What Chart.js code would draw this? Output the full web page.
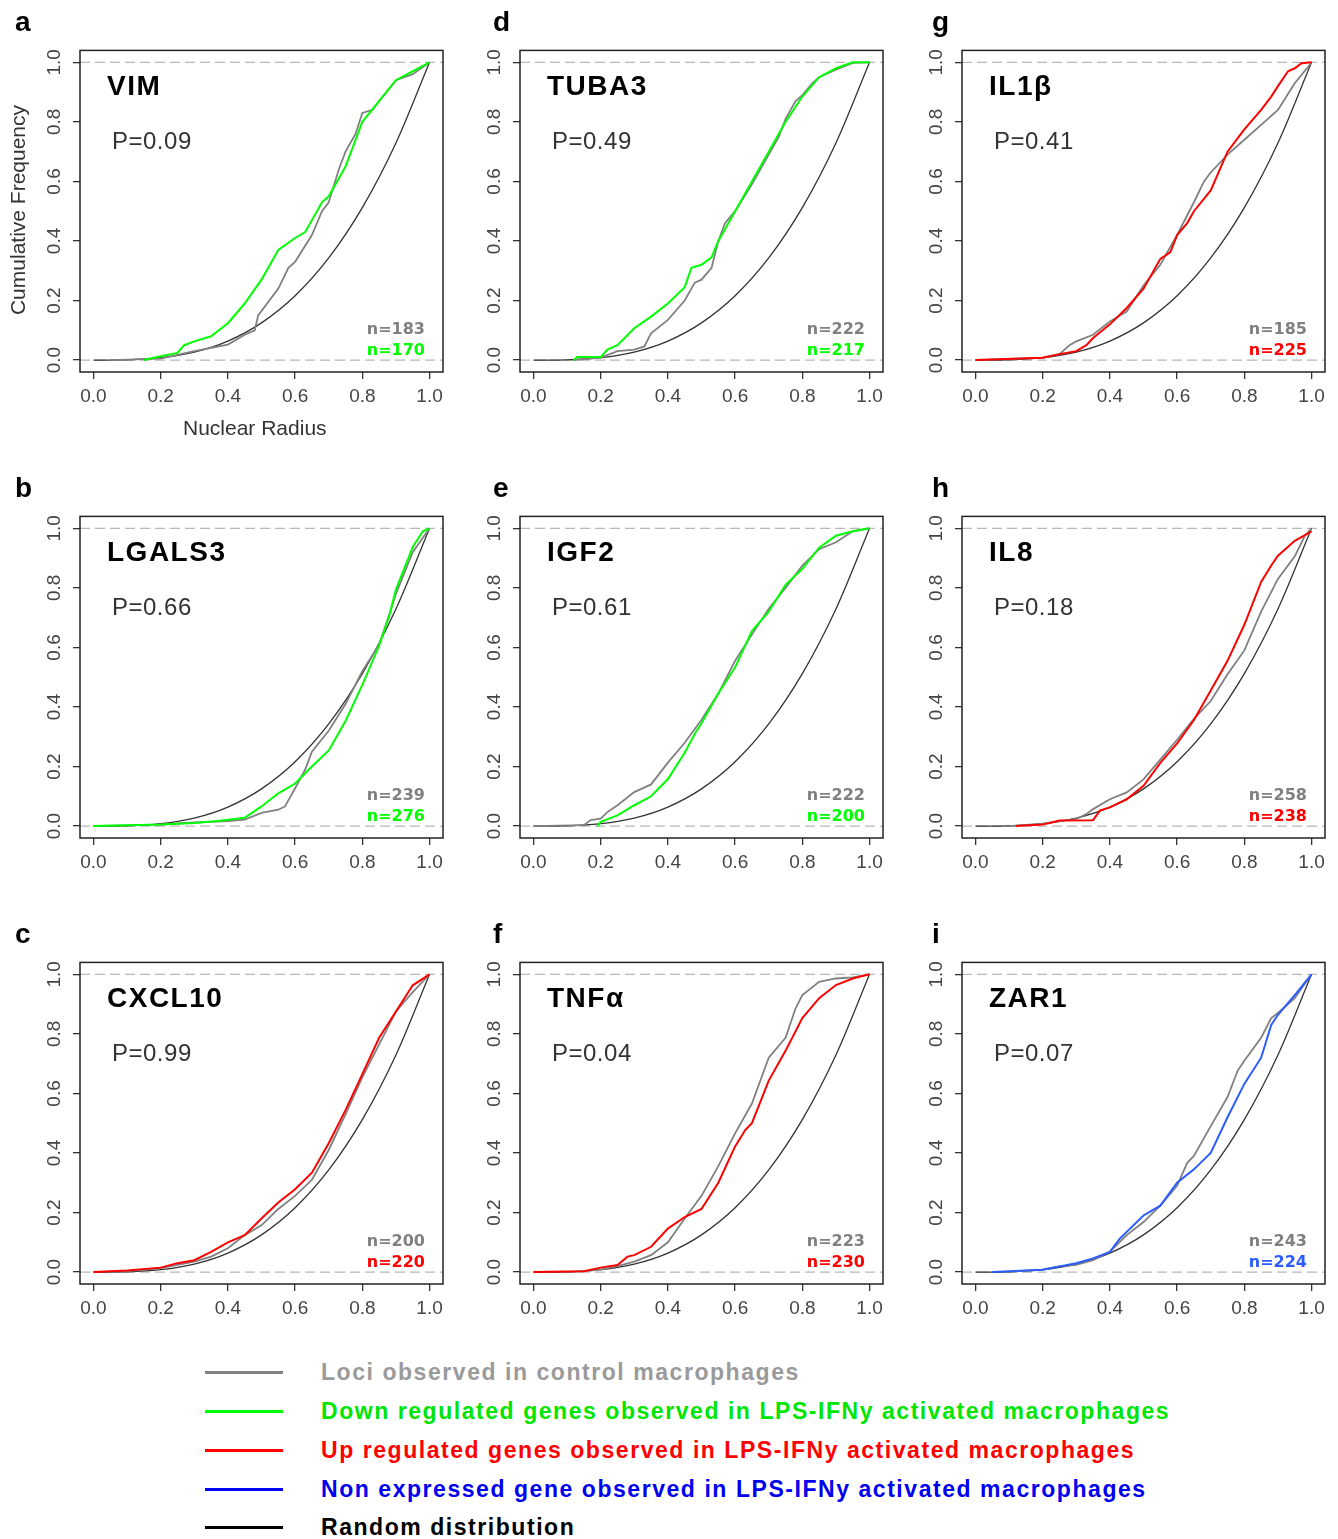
<!DOCTYPE html>
<html>
<head>
<meta charset="utf-8">
<script src="https://cdn.jsdelivr.net/npm/chart.js@4.4.1/dist/chart.umd.min.js"></script>
<style>
  body { margin: 0; background: #fff; width: 1338px; height: 1539px; position: relative; overflow: hidden;
         font-family: 'Liberation Sans', Arial, sans-serif; }
  canvas.panel { position: absolute; }
  .letter { position: absolute; font: bold 28px 'Liberation Sans', Arial, sans-serif; line-height: 28px; color: #000; }
  .axtitle { position: absolute; font: 21px 'Liberation Sans', Arial, sans-serif; color: #333; white-space: nowrap; }
  .leg-line { position: absolute; left: 205px; width: 78px; height: 3px; }
  .leg-text { position: absolute; left: 321px; font: bold 23px 'Liberation Sans', Arial, sans-serif;
              letter-spacing: 1.55px; line-height: 28px; white-space: nowrap; }
</style>
</head>
<body>
<script>
// Tick values shared by every panel
const xTicks = [0, 0.2, 0.4, 0.6, 0.8, 1.0];
const yTicks = [0, 0.2, 0.4, 0.6, 0.8, 1.0];

// Random distribution (black curve)
const randomX = [0, 0.1, 0.2, 0.3, 0.4, 0.5, 0.6, 0.7, 0.8, 0.9, 1.0];
const randomY = [0, 0.001, 0.008, 0.027, 0.064, 0.125, 0.216, 0.343, 0.512, 0.729, 1.0];

// Cumulative frequency curves, [nuclear radius, frequency]
const vimControl = [[0.05,0],[0.2,0.005],[0.3,0.03],[0.4,0.052],[0.45,0.085],[0.48,0.1],[0.49,0.15],[0.55,0.24],[0.58,0.31],[0.6,0.33],[0.65,0.42],[0.68,0.5],[0.7,0.53],[0.73,0.64],[0.75,0.7],[0.78,0.76],[0.8,0.83],[0.83,0.84],[0.85,0.87],[0.9,0.94],[0.95,0.96],[1,1]];
const vimTreated = [[0.15,0],[0.2,0.013],[0.25,0.024],[0.27,0.05],[0.3,0.063],[0.35,0.08],[0.4,0.124],[0.45,0.19],[0.5,0.27],[0.55,0.37],[0.6,0.41],[0.63,0.43],[0.65,0.47],[0.68,0.53],[0.7,0.55],[0.75,0.65],[0.8,0.8],[0.85,0.87],[0.9,0.94],[0.95,0.97],[1,1]];

const tuba3Control = [[0.12,0],[0.2,0.008],[0.25,0.03],[0.3,0.035],[0.33,0.046],[0.35,0.09],[0.4,0.135],[0.45,0.2],[0.48,0.26],[0.5,0.27],[0.53,0.31],[0.55,0.4],[0.57,0.46],[0.6,0.5],[0.65,0.59],[0.7,0.69],[0.73,0.75],[0.75,0.81],[0.78,0.87],[0.8,0.89],[0.83,0.93],[0.85,0.95],[0.9,0.975],[0.95,0.998],[1,1]];
const tuba3Treated = [[0.12,0],[0.13,0.01],[0.2,0.01],[0.22,0.035],[0.25,0.05],[0.3,0.107],[0.35,0.146],[0.4,0.19],[0.45,0.245],[0.47,0.31],[0.5,0.32],[0.53,0.345],[0.55,0.4],[0.6,0.5],[0.65,0.6],[0.7,0.7],[0.75,0.8],[0.8,0.885],[0.85,0.95],[0.9,0.98],[0.95,1],[1,1]];

const il1bControl = [[0,0],[0.2,0.008],[0.25,0.02],[0.28,0.05],[0.3,0.063],[0.35,0.085],[0.4,0.13],[0.45,0.163],[0.5,0.25],[0.55,0.32],[0.6,0.42],[0.65,0.53],[0.68,0.6],[0.7,0.63],[0.75,0.69],[0.8,0.74],[0.85,0.79],[0.9,0.84],[0.95,0.93],[0.99,0.985],[1,1]];
const il1bTreated = [[0,0],[0.2,0.008],[0.25,0.02],[0.3,0.03],[0.33,0.05],[0.35,0.074],[0.4,0.12],[0.45,0.175],[0.5,0.24],[0.55,0.34],[0.58,0.363],[0.6,0.42],[0.63,0.46],[0.65,0.5],[0.7,0.57],[0.75,0.7],[0.8,0.775],[0.85,0.84],[0.88,0.885],[0.9,0.92],[0.93,0.97],[0.95,0.98],[0.97,0.997],[1,1]];

const lgals3Control = [[0,0],[0.2,0.005],[0.3,0.012],[0.4,0.017],[0.45,0.022],[0.5,0.044],[0.55,0.055],[0.57,0.066],[0.6,0.127],[0.63,0.19],[0.65,0.25],[0.7,0.32],[0.75,0.41],[0.8,0.52],[0.85,0.61],[0.88,0.71],[0.9,0.78],[0.95,0.92],[1,1]];
const lgals3Treated = [[0,0],[0.2,0.005],[0.3,0.01],[0.37,0.017],[0.45,0.028],[0.5,0.066],[0.55,0.11],[0.6,0.143],[0.65,0.2],[0.7,0.254],[0.75,0.353],[0.8,0.474],[0.85,0.606],[0.88,0.706],[0.9,0.794],[0.95,0.937],[0.98,0.99],[1,1]];

const igf2Control = [[0,0],[0.15,0.003],[0.17,0.02],[0.2,0.025],[0.22,0.047],[0.25,0.07],[0.3,0.114],[0.35,0.14],[0.4,0.213],[0.45,0.28],[0.5,0.357],[0.55,0.445],[0.6,0.555],[0.65,0.643],[0.7,0.73],[0.75,0.8],[0.8,0.875],[0.85,0.93],[0.9,0.953],[0.95,0.99],[1,1]];
const igf2Treated = [[0.19,0],[0.2,0.014],[0.25,0.036],[0.3,0.07],[0.35,0.1],[0.4,0.158],[0.45,0.246],[0.48,0.31],[0.5,0.345],[0.55,0.445],[0.6,0.533],[0.65,0.655],[0.7,0.72],[0.75,0.81],[0.8,0.864],[0.85,0.935],[0.9,0.975],[0.95,0.99],[1,1]];

const il8Control = [[0.1,0],[0.2,0.008],[0.3,0.024],[0.33,0.04],[0.35,0.057],[0.4,0.09],[0.45,0.113],[0.5,0.157],[0.55,0.223],[0.6,0.29],[0.65,0.36],[0.7,0.42],[0.75,0.51],[0.8,0.59],[0.85,0.72],[0.9,0.83],[0.95,0.906],[0.98,0.975],[1,1]];
const il8Treated = [[0.12,0],[0.2,0.005],[0.25,0.019],[0.35,0.02],[0.37,0.052],[0.4,0.063],[0.45,0.09],[0.5,0.135],[0.55,0.212],[0.6,0.278],[0.65,0.356],[0.7,0.455],[0.75,0.555],[0.8,0.676],[0.85,0.82],[0.88,0.875],[0.9,0.908],[0.95,0.958],[1,0.99]];

const cxcl10Control = [[0.05,0],[0.1,0.003],[0.2,0.013],[0.25,0.024],[0.3,0.035],[0.35,0.052],[0.4,0.08],[0.45,0.124],[0.5,0.157],[0.55,0.212],[0.6,0.256],[0.65,0.31],[0.7,0.41],[0.75,0.53],[0.8,0.654],[0.85,0.765],[0.9,0.875],[0.95,0.94],[1,1]];
const cxcl10Treated = [[0,0],[0.05,0.003],[0.1,0.005],[0.2,0.015],[0.25,0.03],[0.3,0.04],[0.35,0.068],[0.4,0.1],[0.45,0.124],[0.5,0.18],[0.55,0.234],[0.6,0.278],[0.65,0.334],[0.7,0.433],[0.75,0.544],[0.8,0.665],[0.85,0.787],[0.9,0.875],[0.95,0.963],[1,1]];

const tnfControl = [[0.1,0],[0.15,0.003],[0.2,0.008],[0.25,0.02],[0.3,0.035],[0.35,0.057],[0.4,0.1],[0.45,0.18],[0.5,0.256],[0.55,0.356],[0.6,0.466],[0.65,0.566],[0.7,0.72],[0.75,0.787],[0.78,0.886],[0.8,0.93],[0.85,0.975],[0.9,0.986],[0.95,0.99],[1,1]];
const tnfTreated = [[0,0],[0.15,0.003],[0.2,0.015],[0.25,0.024],[0.28,0.052],[0.3,0.057],[0.35,0.085],[0.4,0.146],[0.45,0.185],[0.5,0.212],[0.55,0.3],[0.6,0.422],[0.63,0.477],[0.65,0.5],[0.7,0.643],[0.75,0.743],[0.8,0.853],[0.85,0.92],[0.9,0.964],[0.95,0.986],[1,1]];

const zar1Control = [[0.08,0],[0.2,0.008],[0.25,0.019],[0.3,0.024],[0.35,0.04],[0.4,0.068],[0.45,0.124],[0.5,0.168],[0.55,0.223],[0.6,0.29],[0.63,0.367],[0.65,0.39],[0.7,0.49],[0.75,0.588],[0.78,0.676],[0.8,0.71],[0.85,0.787],[0.88,0.853],[0.9,0.87],[0.95,0.92],[1,1]];
const zar1Treated = [[0.05,0],[0.2,0.008],[0.25,0.019],[0.3,0.03],[0.35,0.046],[0.4,0.068],[0.43,0.113],[0.45,0.135],[0.5,0.19],[0.55,0.223],[0.6,0.3],[0.65,0.345],[0.7,0.4],[0.75,0.52],[0.8,0.632],[0.85,0.72],[0.88,0.83],[0.9,0.864],[0.95,0.93],[1,1]];

// Panel labels
const panelLetters = ['a', 'd', 'g', 'b', 'e', 'h', 'c', 'f', 'i'];
const geneNames = ['VIM', 'TUBA3', 'IL1β', 'LGALS3', 'IGF2', 'IL8', 'CXCL10', 'TNFα', 'ZAR1'];
const pValues = ['P=0.09', 'P=0.49', 'P=0.41', 'P=0.66', 'P=0.61', 'P=0.18', 'P=0.99', 'P=0.04', 'P=0.07'];
const nControl = ['n=183', 'n=222', 'n=185', 'n=239', 'n=222', 'n=258', 'n=200', 'n=223', 'n=243'];
const nTreated = ['n=170', 'n=217', 'n=225', 'n=276', 'n=200', 'n=238', 'n=220', 'n=230', 'n=224'];

const GREY = '#808080', GREEN = '#00ff00', RED = '#ff0000', BLUE = '#2b5cff', BLACK = '#333333';
const controlSeries = [vimControl, tuba3Control, il1bControl, lgals3Control, igf2Control, il8Control, cxcl10Control, tnfControl, zar1Control];
const treatedSeries = [vimTreated, tuba3Treated, il1bTreated, lgals3Treated, igf2Treated, il8Treated, cxcl10Treated, tnfTreated, zar1Treated];
const treatedColors = [GREEN, GREEN, RED, GREEN, GREEN, RED, RED, RED, BLUE];

// Layout of the 3x3 grid (plot box corners)
const colLeft = [80, 520, 962];
const rowTop = [46, 512, 958];
const letterX = [15, 493, 932];
const BOX_W = 363, BOX_H = 326;
const PAD_L = 80, PAD_T = 12, PAD_R = 8, PAD_B = 52;
const FONT = "'Liberation Sans', Arial, sans-serif";

const toPoints = arr => arr.map(([x, y]) => ({ x, y }));

// Draws the box and the in-plot annotations
const panelTextPlugin = {
    id: 'panelText',
    afterDraw(chart, args, opts) {
        const { ctx, chartArea: a } = chart;
        ctx.save();
        ctx.strokeStyle = '#222';
        ctx.lineWidth = 1.5;
        ctx.strokeRect(a.left, a.top, a.right - a.left, a.bottom - a.top);

        ctx.textBaseline = 'middle';
        ctx.fillStyle = '#000';
        ctx.font = 'bold 28px ' + FONT;
        ctx.letterSpacing = '1.5px';
        ctx.textAlign = 'left';
        ctx.fillText(opts.gene, a.left + 27, a.top + 37);

        ctx.fillStyle = '#333';
        ctx.font = '24px ' + FONT;
        ctx.letterSpacing = '0.5px';
        ctx.fillText(opts.p, a.left + 32, a.top + 92);

        ctx.textAlign = 'right';
        ctx.letterSpacing = '0px';
        ctx.font = "bold 16px 'DejaVu Sans', sans-serif";
        ctx.fillStyle = GREY;
        ctx.fillText(opts.nCtrl, a.right - 18, a.bottom - 42);
        ctx.fillStyle = opts.color;
        ctx.fillText(opts.nTreat, a.right - 18, a.bottom - 21);
        ctx.restore();
    }
};

function buildPanel(i) {
    const col = i % 3, row = Math.floor(i / 3);
    const canvas = document.createElement('canvas');
    canvas.className = 'panel';
    canvas.width = PAD_L + BOX_W + PAD_R;
    canvas.height = PAD_T + BOX_H + PAD_B;
    canvas.style.left = (colLeft[col] - PAD_L) + 'px';
    canvas.style.top = (rowTop[row] - PAD_T) + 'px';
    document.body.appendChild(canvas);

    const letter = document.createElement('div');
    letter.className = 'letter';
    letter.textContent = panelLetters[i];
    letter.style.left = letterX[col] + 'px';
    letter.style.top = (rowTop[row] - 38) + 'px';
    document.body.appendChild(letter);

    const tickFont = { family: FONT, size: 19 };
    new Chart(canvas, {
        type: 'line',
        data: {
            datasets: [
                { data: toPoints(treatedSeries[i]), borderColor: treatedColors[i], borderWidth: 2 },
                { data: toPoints(controlSeries[i]), borderColor: GREY, borderWidth: 1.8 },
                { data: randomX.map((x, k) => ({ x, y: randomY[k] })), borderColor: BLACK, borderWidth: 1.3,
                  cubicInterpolationMode: 'monotone' },
                { data: [{ x: -0.04, y: 1 }, { x: 1.04, y: 1 }], borderColor: '#b8b8b8', borderWidth: 1.3, borderDash: [10, 5] },
                { data: [{ x: -0.04, y: 0 }, { x: 1.04, y: 0 }], borderColor: '#b8b8b8', borderWidth: 1.3, borderDash: [10, 5] }
            ]
        },
        options: {
            responsive: false,
            animation: false,
            events: [],
            elements: { point: { radius: 0 }, line: { fill: false, tension: 0 } },
            layout: { padding: { top: PAD_T, right: PAD_R, left: 0, bottom: 0 } },
            plugins: {
                legend: { display: false },
                tooltip: { enabled: false },
                panelText: {
                    gene: geneNames[i], p: pValues[i], nCtrl: nControl[i], nTreat: nTreated[i], color: treatedColors[i]
                }
            },
            scales: {
                x: {
                    type: 'linear', min: -0.04, max: 1.04,
                    afterBuildTicks: s => { s.ticks = xTicks.map(v => ({ value: v })); },
                    afterFit: s => { s.height = PAD_B; },
                    border: { display: false },
                    grid: { drawOnChartArea: false, drawTicks: true, tickLength: 7, color: '#333', lineWidth: 1.3 },
                    ticks: { font: tickFont, color: '#444', padding: 6, maxRotation: 0, autoSkip: false,
                             callback: v => v.toFixed(1) }
                },
                y: {
                    type: 'linear', min: -0.04, max: 1.04,
                    afterBuildTicks: s => { s.ticks = yTicks.map(v => ({ value: v })); },
                    afterFit: s => { s.width = PAD_L; },
                    border: { display: false },
                    grid: { drawOnChartArea: false, drawTicks: true, tickLength: 7, color: '#333', lineWidth: 1.3 },
                    ticks: { font: tickFont, color: '#444', padding: 5, minRotation: 90, maxRotation: 90,
                             crossAlign: 'center', autoSkip: false, callback: v => v.toFixed(1) }
                }
            }
        },
        plugins: [panelTextPlugin]
    });
}

for (let i = 0; i < 9; i++) buildPanel(i);

// Axis titles (panel a only)
const xTitle = document.createElement('div');
xTitle.className = 'axtitle';
xTitle.textContent = 'Nuclear Radius';
xTitle.style.left = '183px';
xTitle.style.top = '416px';
document.body.appendChild(xTitle);

const yTitle = document.createElement('div');
yTitle.className = 'axtitle';
yTitle.textContent = 'Cumulative Frequency';
yTitle.style.left = '18px';
yTitle.style.top = '210px';
yTitle.style.transform = 'translate(-50%, -50%) rotate(-90deg)';
document.body.appendChild(yTitle);

// Legend
const legendLabels = [
    'Loci observed in control macrophages',
    'Down regulated genes observed in LPS-IFNy activated macrophages',
    'Up regulated genes observed in LPS-IFNy activated macrophages',
    'Non expressed gene observed in LPS-IFNy activated macrophages',
    'Random distribution'
];
const legendLineColors = ['#808080', '#00ff00', '#ff0000', '#0000ff', '#000000'];
const legendTextColors = ['#9a9a9a', '#00e600', '#ff0000', '#0000ee', '#000000'];
const legendY = [1372, 1411, 1450, 1489, 1527];

legendLabels.forEach((label, k) => {
    const line = document.createElement('div');
    line.className = 'leg-line';
    line.style.top = (legendY[k] - 1.5) + 'px';
    line.style.background = legendLineColors[k];
    document.body.appendChild(line);

    const text = document.createElement('div');
    text.className = 'leg-text';
    text.textContent = label;
    text.style.top = (legendY[k] - 14) + 'px';
    text.style.color = legendTextColors[k];
    document.body.appendChild(text);
});
</script>
</body>
</html>
